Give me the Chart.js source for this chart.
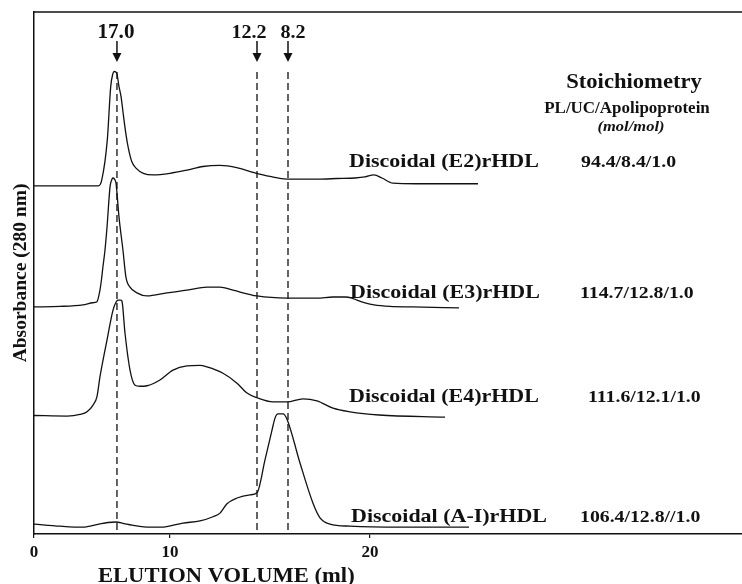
<!DOCTYPE html>
<html>
<head>
<meta charset="utf-8">
<script src="https://cdn.jsdelivr.net/npm/chart.js@4.4.1/dist/chart.umd.min.js"></script>
<style>
  html, body { margin: 0; padding: 0; background: #fff; }
  canvas { display: block; }
</style>
</head>
<body>
<canvas id="sec" width="742" height="584"></canvas>
<script>
const xTicks = [0, 10, 20];

// elution volume (ml) and absorbance (stacked traces, arbitrary units)
const e2Volume = [0, 4.73, 4.98, 5.39, 5.64, 5.79, 5.90, 6.08, 6.25, 6.40, 6.57, 6.76, 6.93, 7.18, 7.50, 8.04, 8.77,
  10.0, 10.84, 11.65, 12.5, 13.34, 14.15, 15.0, 15.84, 17.5, 18.34, 19.25, 19.75, 20.2, 20.6, 21.15, 22.3, 25.4];
const e2Abs = [66.7, 66.7, 67.8, 75.5, 85.7, 88.1, 88.6, 88.3, 85.7, 83.8, 80.3, 76.6, 74.0, 71.4, 70.1, 69.1, 68.8,
  69.1, 69.7, 70.4, 70.6, 70.2, 69.3, 68.5, 68.0, 68.0, 68.1, 68.2, 68.4, 68.8, 68.2, 67.2, 67.1, 67.1];

const e3Volume = [0, 1.91, 3.60, 4.34, 4.63, 4.85, 4.96, 5.07, 5.22, 5.37, 5.59, 5.74, 5.81, 5.96, 6.03, 6.25, 6.54,
  6.76, 7.06, 7.57, 8.31, 9.78, 10.85, 11.85, 12.5, 13.15, 14.35, 15.85, 17.35, 18.15, 18.75, 19.1, 19.35, 19.75,
  20.2, 21.0, 22.1, 24.45];
const e3Abs = [43.5, 43.6, 43.9, 44.3, 44.5, 46.7, 48.7, 51.2, 54.4, 58.8, 66.5, 68.0, 68.2, 67.8, 67.2, 60.7, 54.4,
  49.2, 47.3, 46.2, 45.6, 46.2, 46.7, 47.3, 47.3, 46.7, 45.6, 45.2, 45.2, 45.4, 45.4, 45.2, 44.8, 44.3,
  43.9, 43.6, 43.5, 43.3];

const e4Volume = [0, 2.43, 3.38, 3.90, 4.34, 4.63, 4.85, 5.37, 5.81, 6.03, 6.18, 6.40, 6.47, 6.69, 7.06, 7.43, 7.79,
  8.31, 9.26, 10.15, 10.85, 11.5, 11.85, 12.65, 13.35, 13.85, 14.35, 15.15, 15.85, 16.65, 17.35, 18.15, 19.0,
  20.45, 23.75];
const e4Abs = [22.7, 22.6, 22.9, 23.4, 24.7, 26.3, 30.1, 37.2, 42.9, 44.4, 44.8, 44.8, 44.6, 38.5, 31.4, 28.5, 28.3,
  28.4, 29.5, 31.4, 32.2, 32.3, 32.0, 30.8, 28.9, 27.0, 26.1, 25.3, 25.3, 25.9, 25.5, 24.1, 23.4,
  22.8, 22.4];

const aiVolume = [0, 1.91, 3.6, 4.78, 5.44, 6.03, 6.62, 7.21, 8.53, 9.34, 10.65, 11.5, 12.15, 12.5, 12.85, 13.35,
  14.0, 14.35, 14.75, 15.1, 15.25, 15.4, 15.65, 15.85, 16.5, 17.15, 17.5, 18.0, 19.0, 21.5, 24.95];
const aiAbs = [1.9, 1.5, 1.3, 1.9, 2.2, 2.3, 2.0, 1.7, 1.3, 1.3, 2.1, 2.5, 3.3, 4.0, 5.8, 6.9,
  7.5, 7.9, 14.2, 19.9, 22.2, 23.0, 23.0, 22.0, 13.6, 5.9, 3.1, 1.9, 1.5, 1.3, 1.3];

// size standards: elution volume and Stokes diameter (nm)
const markerVolume = [6.1, 14.35, 15.9];
const markerLabel = ['17.0', '12.2', '8.2'];
const markerTop = 88.5;

const sampleNames = ['Discoidal (E2)rHDL', 'Discoidal (E3)rHDL', 'Discoidal (E4)rHDL', 'Discoidal (A-I)rHDL'];
const stoichiometry = ['94.4/8.4/1.0', '114.7/12.8/1.0', '111.6/12.1/1.0', '106.4/12.8//1.0'];

const serif = '"Liberation Serif", "Times New Roman", serif';
const ink = '#111';

// x axis of the original is not linear: 0-10 ml is drawn narrower than 10-20 ml
class BentScale extends Chart.LinearScale {
  static id = 'bent';
  squash(v) {
    const at = 10, factor = 0.68;
    return v <= at ? v * factor : at * factor + (v - at);
  }
  getPixelForValue(v) {
    const lo = this.squash(this.min), hi = this.squash(this.max);
    return this.getPixelForDecimal((this.squash(v) - lo) / (hi - lo));
  }
  getValueForPixel(p) {
    const lo = this.squash(this.min), hi = this.squash(this.max);
    const s = lo + this.getDecimalForPixel(p) * (hi - lo);
    return s <= 6.8 ? s / 0.68 : 10 + (s - 6.8);
  }
}
Chart.register(BentScale);

const zip = (xs, ys) => xs.map((x, i) => ({ x, y: ys[i] }));

const curves = [[e2Volume, e2Abs], [e3Volume, e3Abs], [e4Volume, e4Abs], [aiVolume, aiAbs]].map(([v, a], i) => ({
  label: sampleNames[i],
  data: zip(v, a),
  borderColor: ink,
  borderWidth: 1.3,
  cubicInterpolationMode: 'monotone',
  pointRadius: 0,
  fill: false
}));

const markers = markerVolume.map((v, i) => ({
  label: markerLabel[i],
  data: [{ x: v, y: markerTop }, { x: v, y: 0 }],
  borderColor: ink,
  borderWidth: 1.3,
  borderDash: [7, 4],
  tension: 0,
  pointRadius: 0,
  fill: false
}));

function say(ctx, text, x, y, size, o = {}) {
  ctx.save();
  ctx.font = (o.italic ? 'italic ' : '') + 'bold ' + size + 'px ' + serif;
  ctx.fillStyle = ink;
  ctx.textAlign = o.align || 'left';
  ctx.textBaseline = 'alphabetic';
  ctx.translate(x, y);
  if (o.rotate) ctx.rotate(o.rotate);
  ctx.scale(o.sx || 1, 1);
  ctx.fillText(text, 0, 0);
  ctx.restore();
}

const decor = {
  id: 'decor',
  afterDraw(chart) {
    const { ctx, chartArea, scales: { x, y } } = chart;

    // top frame line
    ctx.save();
    ctx.strokeStyle = ink;
    ctx.lineWidth = 1.5;
    ctx.beginPath();
    ctx.moveTo(chartArea.left, chartArea.top);
    ctx.lineTo(chartArea.right, chartArea.top);
    ctx.stroke();

    // arrows over the size standards
    const tip = y.getPixelForValue(markerTop) - 10;
    const labelShift = [-1, -8, 5];
    markerVolume.forEach((v, i) => {
      const px = x.getPixelForValue(v);
      ctx.lineWidth = 1.5;
      ctx.beginPath();
      ctx.moveTo(px, tip - 21);
      ctx.lineTo(px, tip - 6);
      ctx.stroke();
      ctx.beginPath();
      ctx.moveTo(px - 4.5, tip - 9);
      ctx.lineTo(px + 4.5, tip - 9);
      ctx.lineTo(px, tip);
      ctx.closePath();
      ctx.fillStyle = ink;
      ctx.fill();
      say(ctx, markerLabel[i], px + labelShift[i], tip - 24, i === 0 ? 20.5 : 19.5, { align: 'center', sx: 1.03 });
    });
    ctx.restore();

    // table on the right
    say(ctx, 'Stoichiometry', 634, 88, 20, { align: 'center', sx: 1.13 });
    say(ctx, 'PL/UC/Apolipoprotein', 627, 113, 16, { align: 'center', sx: 1.06 });
    say(ctx, '(mol/mol)', 631, 131, 15, { align: 'center', sx: 1.1, italic: true });

    const rowY = [167, 298, 402, 522];
    const nameX = [349, 350, 349, 351];
    const ratioX = [581, 580, 588, 580];
    sampleNames.forEach((n, i) => {
      say(ctx, n, nameX[i], rowY[i], 19, { sx: 1.157 });
      say(ctx, stoichiometry[i], ratioX[i], rowY[i], 17, { sx: 1.163 });
    });

    // axis titles
    say(ctx, 'ELUTION VOLUME (ml)', 98, 582, 21, { sx: 1.075 });
    say(ctx, 'Absorbance (280 nm)', 26, (chartArea.top + chartArea.bottom) / 2, 19.5,
      { align: 'center', rotate: -Math.PI / 2 });
  }
};

new Chart(document.getElementById('sec'), {
  type: 'line',
  data: { datasets: [...curves, ...markers] },
  options: {
    responsive: false,
    animation: false,
    devicePixelRatio: 1,
    layout: { padding: { top: 12, right: 0, bottom: 0, left: 0 } },
    plugins: { legend: { display: false }, tooltip: { enabled: false } },
    scales: {
      x: {
        type: 'bent',
        min: 0,
        max: 38.6,
        afterBuildTicks: s => { s.ticks = xTicks.map(v => ({ value: v })); },
        afterFit: s => { s.height = 50; },
        grid: { display: true, drawOnChartArea: false, drawTicks: true, tickLength: 4, color: ink, lineWidth: 1.2 },
        border: { display: true, color: ink, width: 1.5 },
        ticks: {
          color: ink,
          font: { family: serif, size: 17, weight: 'bold' },
          padding: 4,
          maxRotation: 0,
          autoSkip: false,
          callback: v => String(v)
        }
      },
      y: {
        min: 0,
        max: 100,
        afterFit: s => { s.width = 34; },
        grid: { display: false },
        ticks: { display: false },
        border: { display: true, color: ink, width: 1.5 }
      }
    }
  },
  plugins: [decor]
});
</script>
</body>
</html>
